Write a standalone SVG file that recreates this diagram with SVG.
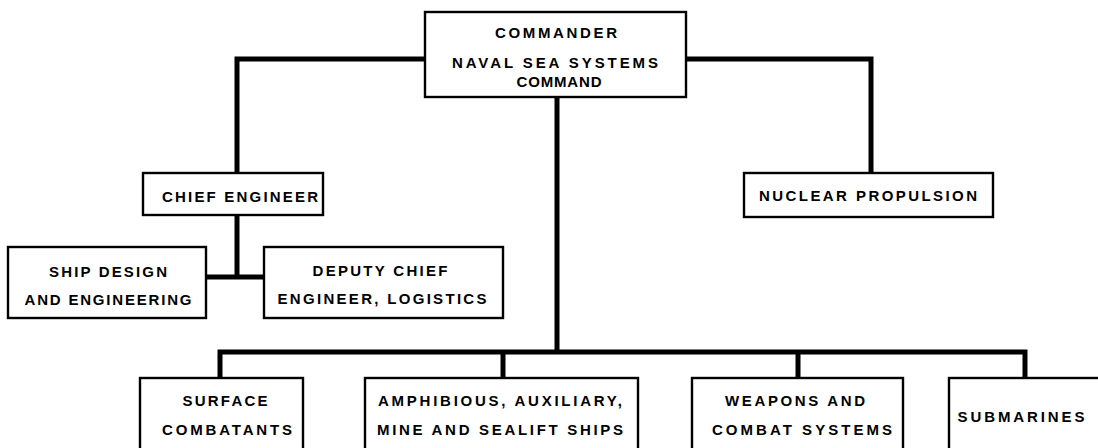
<svg xmlns="http://www.w3.org/2000/svg" width="1098" height="448" viewBox="0 0 1098 448">
<style>
.box{fill:#fff;stroke:#000;stroke-width:2.4}
.t{font-family:"Liberation Sans",Arial,sans-serif;font-weight:bold;font-size:15px;text-anchor:middle;fill:#000}
.c{fill:none;stroke:#000;stroke-width:5;stroke-linejoin:miter;stroke-linecap:butt}
</style>
<rect width="1098" height="448" fill="#fff"/>
<g id="connectors">
<path class="c" d="M425 59 H237 V173"/>
<path class="c" d="M686 59 H871 V173"/>
<path class="c" d="M237 215 V277"/>
<path class="c" d="M206 277 H264"/>
<path class="c" d="M557 97 V352"/>
<path class="c" d="M220 378 V352 H1025 V378"/>
<path class="c" d="M503 352 V378"/>
<path class="c" d="M798 352 V378"/>
</g>
<g id="commander">
<rect class="box" x="425" y="12" width="261" height="85"/>
<text class="t" x="556" y="38" textLength="122" lengthAdjust="spacing">COMMANDER</text>
<text class="t" x="555" y="68" textLength="206" lengthAdjust="spacing">NAVAL SEA SYSTEMS</text>
<text class="t" x="559" y="87" textLength="85" lengthAdjust="spacing">COMMAND</text>
</g>
<g id="chief-engineer">
<rect class="box" x="143" y="173" width="180" height="42"/>
<text class="t" x="240" y="202" textLength="156" lengthAdjust="spacing">CHIEF ENGINEER</text>
</g>
<g id="nuclear-propulsion">
<rect class="box" x="744" y="173" width="249" height="44"/>
<text class="t" x="868" y="201" textLength="218" lengthAdjust="spacing">NUCLEAR PROPULSION</text>
</g>
<g id="ship-design">
<rect class="box" x="8" y="247" width="198" height="71"/>
<text class="t" x="108" y="277" textLength="118" lengthAdjust="spacing">SHIP DESIGN</text>
<text class="t" x="108" y="305" textLength="167" lengthAdjust="spacing">AND ENGINEERING</text>
</g>
<g id="deputy-chief">
<rect class="box" x="264" y="247" width="239" height="71"/>
<text class="t" x="380" y="276" textLength="135" lengthAdjust="spacing">DEPUTY CHIEF</text>
<text class="t" x="382" y="304" textLength="209" lengthAdjust="spacing">ENGINEER, LOGISTICS</text>
</g>
<g id="surface-combatants">
<rect class="box" x="140" y="378" width="163" height="80"/>
<text class="t" x="225" y="406" textLength="85" lengthAdjust="spacing">SURFACE</text>
<text class="t" x="227" y="435" textLength="130" lengthAdjust="spacing">COMBATANTS</text>
</g>
<g id="amphibious">
<rect class="box" x="365" y="378" width="273" height="80"/>
<text class="t" x="500" y="406" textLength="244" lengthAdjust="spacing">AMPHIBIOUS, AUXILIARY,</text>
<text class="t" x="500" y="435" textLength="246" lengthAdjust="spacing">MINE AND SEALIFT SHIPS</text>
</g>
<g id="weapons">
<rect class="box" x="692" y="378" width="211" height="80"/>
<text class="t" x="795" y="406" textLength="140" lengthAdjust="spacing">WEAPONS AND</text>
<text class="t" x="802" y="435" textLength="180" lengthAdjust="spacing">COMBAT SYSTEMS</text>
</g>
<g id="submarines">
<rect class="box" x="949" y="378" width="160" height="80"/>
<text class="t" x="1021" y="422" textLength="127" lengthAdjust="spacing">SUBMARINES</text>
</g>
</svg>
